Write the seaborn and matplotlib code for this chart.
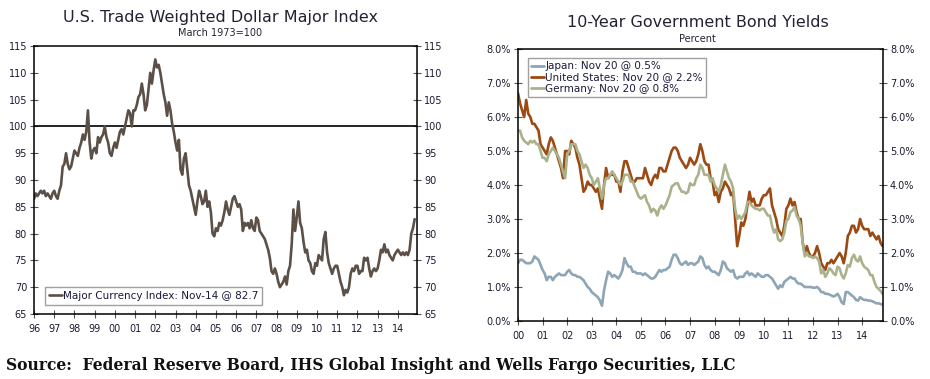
import matplotlib
matplotlib.use('Agg')
import matplotlib.pyplot as plt
import numpy as np
import pandas as pd
import seaborn as sns

sns.set_style("white")
plt.rcParams['font.family'] = ['DejaVu Sans']

# monthly values, Jan 1996 .. Nov 2014
dollar = [
    86.5, 87.5, 87, 87.5, 88, 87.5, 88, 87, 87.5, 87, 86.5, 87.5,
    88, 87, 86.5, 88, 89, 92.5, 93, 95, 93, 92, 92.5, 94,
    95.5, 95, 94.5, 96, 97, 98.5, 97.5, 99, 103, 97, 94, 95.5,
    96, 95, 98, 97, 98, 98.5, 100, 98, 97, 95, 94.5, 96,
    97, 96, 97.5, 99, 99.5, 98.5, 100, 101.5, 103, 102.5, 100, 103,
    103, 104, 105.5, 106, 108, 106, 103, 104, 107, 110, 108, 110.5,
    112.5, 111, 111.5, 110, 108, 106, 104.5, 102, 104.5, 103, 100.5, 99,
    97, 95.5, 97.5, 92, 91, 94, 95, 92, 89, 88, 86.5, 85,
    83.5, 86, 88, 87, 85.5, 86, 88, 85, 86, 84, 80, 79.5,
    81, 80.5, 82, 81.5, 82.5, 84, 86, 84.5, 83.5, 85, 86.5, 87,
    86, 85, 85.5, 84.5, 80.5, 82, 81.5, 82, 81, 82.5, 81, 80.5,
    83, 82.5, 80.5, 80, 79.5, 79, 78, 77, 75.5, 73, 72.5, 73.5,
    72.5, 71, 70, 70.5, 71, 72, 70.5, 73, 74, 78, 84.5, 80.5,
    83, 86, 82, 81, 78.5, 76.5, 77, 75, 74.5, 73, 72.5, 74.5,
    74, 76, 75.5, 75, 79, 80.3, 76.5, 74.5, 73.5, 72.5, 73.5, 74,
    74, 72.5, 71, 70, 68.5, 69.5, 69, 70, 72.5, 73.5, 73, 74,
    74, 72.5, 73, 73, 75.5, 75, 75.5, 73.5, 72, 73, 73.5, 73,
    73.5, 75, 77, 76.5, 78, 76.5, 77, 76, 75.5, 75, 76, 76.5,
    77, 76.5, 76, 76.5, 76, 76.5, 76, 77, 80, 81, 82.7,
]

# monthly 10-year yields, Jan 2000 .. Nov 2014
us = [
    6.7, 6.4, 6.2, 6.0, 6.5, 6.1, 6.0, 5.8, 5.8, 5.7, 5.6, 5.2,
    5.1, 5.0, 4.9, 5.2, 5.4, 5.3, 5.1, 4.9, 4.7, 4.5, 4.2, 5.0,
    5.0, 4.9, 5.3, 5.2, 5.1, 4.8, 4.6, 4.2, 3.8, 3.9, 4.1, 4.0,
    4.0, 3.9, 3.8, 3.9, 3.6, 3.3, 4.0, 4.5, 4.2, 4.3, 4.3, 4.3,
    4.1, 4.1, 3.8, 4.4, 4.7, 4.7, 4.5, 4.3, 4.1, 4.1, 4.2, 4.2,
    4.2, 4.2, 4.5, 4.3, 4.1, 4.0, 4.2, 4.3, 4.2, 4.5, 4.5, 4.4,
    4.4, 4.6, 4.8, 5.0, 5.1, 5.1, 5.0, 4.8, 4.7, 4.6, 4.5, 4.6,
    4.8, 4.7, 4.6, 4.7, 4.9, 5.2, 5.0, 4.7, 4.6, 4.6, 4.2, 4.1,
    3.7, 3.8, 3.5, 3.8, 3.9, 4.1, 4.0, 3.9, 3.7, 3.8, 3.0, 2.2,
    2.5, 2.9, 2.8, 3.0, 3.4, 3.8, 3.5, 3.6, 3.4, 3.4, 3.4, 3.6,
    3.7, 3.7, 3.8, 3.9, 3.4, 3.2, 3.0, 2.7, 2.6, 2.5, 2.8, 3.3,
    3.4, 3.6, 3.4, 3.5, 3.2, 3.0, 3.0, 2.3, 2.0, 2.2, 2.0, 1.9,
    1.9, 2.0, 2.2, 2.0, 1.7, 1.6, 1.5, 1.7, 1.7, 1.8, 1.7, 1.8,
    1.9, 2.0, 1.9, 1.7, 2.0, 2.5, 2.6, 2.8, 2.8, 2.6, 2.7, 3.0,
    2.8, 2.7, 2.7, 2.7, 2.5, 2.6, 2.5, 2.4, 2.5, 2.3, 2.2,
]
japan = [
    1.7, 1.8, 1.8, 1.75, 1.7, 1.7, 1.7, 1.75, 1.9, 1.85, 1.8, 1.65,
    1.5, 1.4, 1.2, 1.3, 1.3, 1.2, 1.3, 1.35, 1.4, 1.35, 1.35, 1.35,
    1.45, 1.5, 1.4, 1.35, 1.35, 1.3, 1.3, 1.25, 1.2, 1.1, 1.0, 0.95,
    0.85, 0.8, 0.75, 0.7, 0.6, 0.45, 0.9, 1.2, 1.45, 1.4, 1.3, 1.35,
    1.3, 1.25, 1.35, 1.5, 1.85, 1.7, 1.6, 1.6, 1.45, 1.45, 1.4, 1.4,
    1.4, 1.35, 1.4, 1.35, 1.3, 1.25, 1.25, 1.3, 1.4, 1.5, 1.45, 1.5,
    1.5, 1.55, 1.6, 1.8, 1.95, 1.95, 1.85, 1.7, 1.65, 1.7, 1.75, 1.65,
    1.7, 1.7, 1.65, 1.7, 1.75, 1.9, 1.85, 1.65, 1.55, 1.6, 1.5, 1.45,
    1.45, 1.4, 1.35, 1.5, 1.75, 1.7, 1.55, 1.5, 1.45, 1.5, 1.3, 1.25,
    1.3, 1.3, 1.3, 1.4, 1.45, 1.35, 1.4, 1.35, 1.3, 1.4, 1.35, 1.3,
    1.3, 1.35, 1.35, 1.3, 1.25, 1.15, 1.05, 0.95, 1.05, 1.0, 1.15, 1.2,
    1.25, 1.3, 1.25, 1.25, 1.15, 1.1, 1.1, 1.05, 1.0, 1.0, 1.0, 1.0,
    0.98, 0.98, 1.0, 0.95, 0.85, 0.85, 0.8, 0.8, 0.78, 0.75, 0.72, 0.75,
    0.8, 0.7, 0.55, 0.5, 0.85, 0.85, 0.8, 0.75, 0.7, 0.62, 0.6, 0.7,
    0.65, 0.62, 0.62, 0.6, 0.6, 0.58, 0.55, 0.52, 0.52, 0.5, 0.48,
]
germany = [
    5.6, 5.6, 5.4, 5.3, 5.25, 5.2, 5.3, 5.25, 5.3, 5.2, 5.2, 5.0,
    4.8, 4.8, 4.7, 4.9, 5.0, 5.1, 5.0, 4.9, 4.8, 4.6, 4.4, 4.2,
    4.9, 5.0, 5.2, 5.2, 5.2, 5.0, 4.9, 4.7, 4.5, 4.6, 4.5, 4.3,
    4.2, 4.0, 4.1, 4.2, 3.9, 3.6, 4.0, 4.2, 4.2, 4.3, 4.4, 4.3,
    4.2, 4.1, 4.0, 4.1, 4.3, 4.3, 4.3, 4.1, 4.1, 3.95, 3.8, 3.65,
    3.6, 3.65, 3.7, 3.5, 3.4, 3.2, 3.3, 3.25, 3.1, 3.3, 3.4, 3.3,
    3.4, 3.55, 3.7, 3.95, 4.0, 4.05, 4.05, 3.9, 3.8, 3.8, 3.75, 3.8,
    4.05, 4.0, 4.0, 4.2, 4.3, 4.6, 4.5, 4.3, 4.3, 4.3, 4.1, 4.2,
    4.0, 3.9, 3.8, 4.0, 4.3, 4.6, 4.4, 4.2, 4.1, 3.9, 3.3, 3.0,
    3.1, 3.0, 3.1, 3.2, 3.5, 3.5, 3.4, 3.35, 3.3, 3.3, 3.25, 3.3,
    3.3, 3.2, 3.1, 3.1, 2.8, 2.6, 2.7, 2.4, 2.35, 2.4, 2.6, 2.95,
    3.0, 3.2, 3.25, 3.35, 3.1, 3.0, 2.8, 2.3, 1.9, 2.0, 1.9, 1.9,
    1.85, 1.9, 1.85, 1.75, 1.4, 1.5, 1.3, 1.4, 1.55, 1.5, 1.4, 1.35,
    1.6, 1.55, 1.35, 1.25, 1.4, 1.65, 1.6, 1.85, 1.95, 1.8, 1.75, 1.9,
    1.7, 1.6, 1.55, 1.5, 1.35, 1.35, 1.15, 1.0, 0.95, 0.88, 0.8,
]

dollar_label = 'Major Currency Index: Nov-14 @ 82.7'
bond_labels = ['Japan: Nov 20 @ 0.5%', 'United States: Nov 20 @ 2.2%', 'Germany: Nov 20 @ 0.8%']
bond_colors = ['#8DA5B5', '#9A4A12', '#AAB28C']

d1 = pd.DataFrame({'date': 1996 + np.arange(len(dollar)) / 12.0, 'value': dollar})
n = len(us)
bx = 2000 + np.arange(n) / 12.0
d2 = pd.DataFrame({'date': np.tile(bx, 3),
                   'value': japan + us + germany,
                   'series': np.repeat(bond_labels, n)})

fig = plt.figure(figsize=(9.3, 3.79), dpi=100)
ax0 = fig.add_axes([0.0366, 0.1715, 0.4118, 0.707])
ax1 = fig.add_axes([0.557, 0.153, 0.3925, 0.7177])

def style_axis(ax):
    for s in ax.spines.values():
        s.set_color('black')
        s.set_linewidth(1.1)
    ax.tick_params(axis='both', direction='inout', length=6, width=0.8,
                   color='#555555', labelsize=7, labelcolor='#1a1a2e',
                   left=True, right=True, bottom=True,
                   labelright=True, labelleft=True, pad=2)
    ax.tick_params(axis='x', pad=4)
    ax.set_xlabel('')
    ax.set_ylabel('')

# left: dollar index
sns.lineplot(data=d1, x='date', y='value', color='#5B5047', lw=1.9,
             label=dollar_label, ax=ax0)
ax0.axhline(100, color='black', lw=1.2, zorder=1)
ax0.set_xlim(1996, 2014.95)
ax0.set_ylim(65, 115)
ax0.set_yticks(range(65, 116, 5))
ax0.set_xticks(range(1996, 2015))
ax0.set_xticklabels(['%02d' % (y % 100) for y in range(1996, 2015)])
style_axis(ax0)
leg = ax0.legend(loc='lower left', fontsize=7.5, frameon=True, fancybox=False,
                 edgecolor='#888888', handlelength=1.3, handletextpad=0.1,
                 borderpad=0.35, bbox_to_anchor=(0.015, 0.015))
leg.get_frame().set_linewidth(1.0)
for t in leg.get_texts():
    t.set_color('#1a1a3a')

# right: bond yields
sns.lineplot(data=d2, x='date', y='value', hue='series', hue_order=bond_labels,
             palette=bond_colors, lw=1.9, ax=ax1)
ax1.set_xlim(2000, 2014.85)
ax1.set_ylim(0, 8)
ax1.set_yticks(np.arange(0, 8.1, 1))
ax1.set_yticklabels(['%.1f%%' % v for v in np.arange(0, 8.1, 1)])
ax1.set_xticks(range(2000, 2015))
ax1.set_xticklabels(['%02d' % (y % 100) for y in range(2000, 2015)])
style_axis(ax1)
leg = ax1.legend(loc='upper left', fontsize=7.5, frameon=True, fancybox=False,
                 edgecolor='#888888', handlelength=1.3, handletextpad=0.1,
                 borderpad=0.3, labelspacing=0.1, bbox_to_anchor=(0.012, 0.985))
leg.get_frame().set_linewidth(1.0)
for line in leg.get_lines():
    line.set_linewidth(2)
for t in leg.get_texts():
    t.set_color('#1a1a3a')

fig.text(0.2366, 0.955, 'U.S. Trade Weighted Dollar Major Index', ha='center',
         va='center', fontsize=11.5, color='#222233')
fig.text(0.2366, 0.913, 'March 1973=100', ha='center', va='center',
         fontsize=7, color='#222233')
fig.text(0.7505, 0.94, '10-Year Government Bond Yields', ha='center',
         va='center', fontsize=11.5, color='#222233')
fig.text(0.7495, 0.898, 'Percent', ha='center', va='center',
         fontsize=7, color='#222233')
fig.text(0.006, 0.035, 'Source:  Federal Reserve Board, IHS Global Insight and Wells Fargo Securities, LLC',
         ha='left', va='center', fontsize=11.2, fontweight='bold',
         family=['DejaVu Serif'], color='#111111')

fig.savefig('out.png', dpi=100)
